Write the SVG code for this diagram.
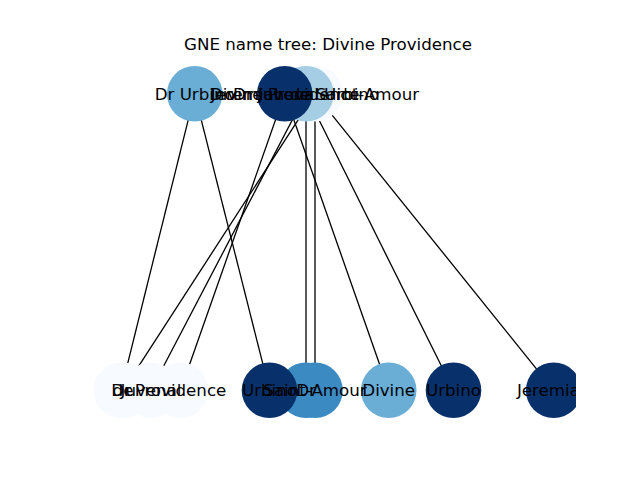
<svg xmlns="http://www.w3.org/2000/svg" width="640" height="480" viewBox="0 0 640 480">
<style>
text{font-family:"DejaVu Sans","Liberation Sans",sans-serif;font-size:16.67px;fill:#000;}
.lbl{text-anchor:middle;}
.edge{stroke:#000;stroke-width:1.3;fill:none;}
.c0{fill:#f7fbff;}
.c1{fill:#a5cde3;}
.c2{fill:#6aaed6;}
.c3{fill:#3b8bc2;}
.c4{fill:#08306b;}
</style>
<defs>
<clipPath id="ax"><rect x="80" y="57.6" width="496" height="364.8"/></clipPath>
</defs>
<rect width="640" height="480" fill="#fff"/>
<text x="328" y="49.5" class="lbl">GNE name tree: Divine Providence</text>
<g clip-path="url(#ax)">
<g id="edges">
<line class="edge" x1="194.7" y1="93.8" x2="121" y2="390.3"/>
<line class="edge" x1="194.7" y1="93.8" x2="269.5" y2="390.3"/>
<line class="edge" x1="284.7" y1="93.8" x2="180.5" y2="390.3"/>
<line class="edge" x1="284.7" y1="93.8" x2="388.7" y2="390.3"/>
<line class="edge" x1="306" y1="93.8" x2="306" y2="390.3"/>
<line class="edge" x1="306" y1="93.8" x2="151" y2="390.3"/>
<line class="edge" x1="306" y1="93.8" x2="453.5" y2="390.3"/>
<line class="edge" x1="315" y1="93.8" x2="123" y2="390.3"/>
<line class="edge" x1="315" y1="93.8" x2="315" y2="390.3"/>
<line class="edge" x1="315" y1="93.8" x2="553.7" y2="390.3"/>
</g>
<g id="nodes">
<g id="node-jeremiah-de-saint-amour"><circle class="c0" cx="315" cy="93.8" r="27.8"/></g>
<g id="node-dr-juvenal-urbino"><circle class="c1" cx="306" cy="93.8" r="27.8"/></g>
<g id="node-divine-providence"><circle class="c4" cx="284.7" cy="93.8" r="27.8"/></g>
<g id="node-dr-urbino"><circle class="c2" cx="194.7" cy="93.8" r="27.8"/></g>
<g id="node-de"><circle class="c0" cx="123" cy="390.3" r="27.8"/></g>
<g id="node-dr-a"><circle class="c0" cx="121" cy="390.3" r="27.8"/></g>
<g id="node-juvenal"><circle class="c0" cx="151" cy="390.3" r="27.8"/></g>
<g id="node-providence"><circle class="c0" cx="180.5" cy="390.3" r="27.8"/></g>
<g id="node-dr-b"><circle class="c3" cx="306" cy="390.3" r="27.8"/></g>
<g id="node-saint-amour"><circle class="c3" cx="315" cy="390.3" r="27.8"/></g>
<g id="node-urbino-a"><circle class="c4" cx="269.5" cy="390.3" r="27.8"/></g>
<g id="node-divine"><circle class="c2" cx="388.7" cy="390.3" r="27.8"/></g>
<g id="node-urbino-b"><circle class="c4" cx="453.5" cy="390.3" r="27.8"/></g>
<g id="node-jeremiah"><circle class="c4" cx="553.7" cy="390.3" r="27.8"/></g>
</g>
<g id="labels">
<text class="lbl" x="315" y="100">Jeremiah de Saint-Amour</text>
<text class="lbl" x="306" y="100">Dr Juvenal Urbino</text>
<text class="lbl" x="284.7" y="100">Divine Providence</text>
<text class="lbl" x="194.7" y="100">Dr Urbino</text>
<text class="lbl" x="123" y="396.3">de</text>
<text class="lbl" x="121" y="396.3">Dr</text>
<text class="lbl" x="151" y="396.3">Juvenal</text>
<text class="lbl" x="180.5" y="396.3">Providence</text>
<text class="lbl" x="306" y="396.3">Dr</text>
<text class="lbl" x="315" y="396.3">Saint-Amour</text>
<text class="lbl" x="269.5" y="396.3">Urbino</text>
<text class="lbl" x="388.7" y="396.3">Divine</text>
<text class="lbl" x="453.5" y="396.3">Urbino</text>
<text class="lbl" x="553.7" y="396.3">Jeremiah</text>
</g>
</g>
</svg>
